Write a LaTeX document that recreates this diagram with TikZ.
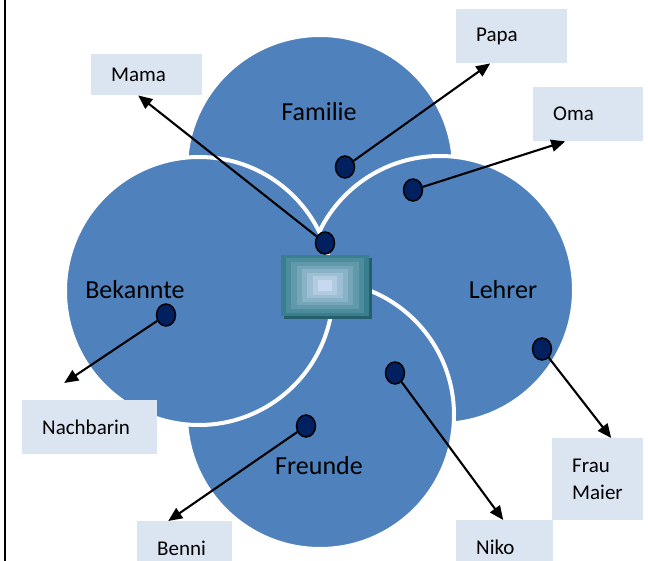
\documentclass[tikz,border=0pt]{standalone}
\usepackage{fontspec}
\setmainfont{Carlito}
\usetikzlibrary{arrows.meta,shapes.geometric,shadows,positioning}
\definecolor{petalblue}{RGB}{79,129,189}
\definecolor{knobblue}{RGB}{0,32,96}
\definecolor{tagblue}{RGB}{219,229,241}
\definecolor{hubedge}{RGB}{56,128,143}
\definecolor{hubcore}{RGB}{200,216,240}
\definecolor{hubshade}{RGB}{38,94,108}
\tikzset{
    petal/.style ={circle, fill=petalblue, draw=white, line width=4pt, minimum size=268pt, inner sep=0pt},
    caption/.style={font=\fontsize{26}{30}\selectfont},
    knob/.style = {ellipse, draw, fill=knobblue, line width=1.5pt, minimum width=19pt, minimum height=22pt, inner sep=0pt},
    tag/.style = {rectangle, fill=tagblue, anchor=north west, inner xsep=20pt, inner ysep=0pt,
                  minimum height=54pt, align=left, font=\fontsize{21}{27}\selectfont},
    hub/.style = {rectangle, fill=hubedge, minimum width=88pt, minimum height=61pt, inner sep=0pt,
                  drop shadow={shadow xshift=3pt, shadow yshift=-3pt, fill=hubshade, opacity=1}},
    pointer/.style={-{Triangle[length=14pt,width=12pt]}, line width=2.1pt}
}
\begin{document}
\begin{tikzpicture}[x=1pt,y=-1pt]
    \clip (0,0) rectangle (648,561);
    \draw[line width=2pt] (5,0) -- (5,561);

    % the four petals
    \node[petal] (fam) at (320,169) {};
    \node[petal] (leh) at (440,290) {};
    \node[petal] (fre) at (320,415) {};
    \node[petal] (bek) at (199,291) {};

    \node[caption] (famtxt) at (319,112) {Familie};
    \node[caption] (lehtxt) at (503,290) {Lehrer};
    \node[caption] (fretxt) at (319,466) {Freunde};
    \node[caption] (bektxt) at (135,290) {Bekannte};

    % centre box
    \node[hub] (hub) at (325,285.5) {};
    \foreach \k in {1,...,7}{
        \pgfmathtruncatemacro{\mix}{100*\k/7}
        \fill[hubcore!\mix!hubedge] ([xshift={\k*5.3pt},yshift={-\k*3.6pt}]hub.north west)
            rectangle ([xshift={-\k*5.3pt},yshift={\k*3.6pt}]hub.south east);
    }

    % labels
    \node[tag, text width=71pt, minimum height=41pt] (mama) at (91,54) {Mama};
    \node[tag, text width=71pt] (papa) at (456,9) {Papa};
    \node[tag, text width=70pt] (oma) at (533,87) {Oma};
    \node[tag, text width=51pt, minimum height=82pt] (maier) at (552,438) {Frau\\Maier};
    \node[tag, text width=95pt] (nachbarin) at (22,400) {Nachbarin};
    \node[tag, text width=55pt] (benni) at (137,521) {Benni};
    \node[tag, text width=57pt] (niko) at (456,520) {Niko};

    % dots
    \node[knob] (kMama) at (325,243) {};
    \node[knob] (kPapa) at (345,167) {};
    \node[knob] (kOma) at (413,190) {};
    \node[knob] (kMaier) at (542,349) {};
    \node[knob] (kNiko) at (395,373) {};
    \node[knob] (kBenni) at (306,426) {};
    \node[knob] (kNachbarin) at (166,315) {};

    % arrows
    \path[pointer] (kMama) edge ([xshift=-8.5pt]mama.south);
    \path[pointer] (kPapa) edge ([xshift=-21.5pt]papa.south);
    \path[pointer] (kOma) edge ([xshift=-23pt]oma.south);
    \path[pointer] (kMaier) edge ([xshift=13.5pt]maier.north);
    \path[pointer] (kNiko) edge ([xshift=-1.5pt]niko.north);
    \path[pointer] (kBenni) edge ([xshift=-16.5pt]benni.north);
    \path[pointer] (kNachbarin) edge ([xshift=-25.5pt,yshift=17pt]nachbarin.north);
\end{tikzpicture}
\end{document}
